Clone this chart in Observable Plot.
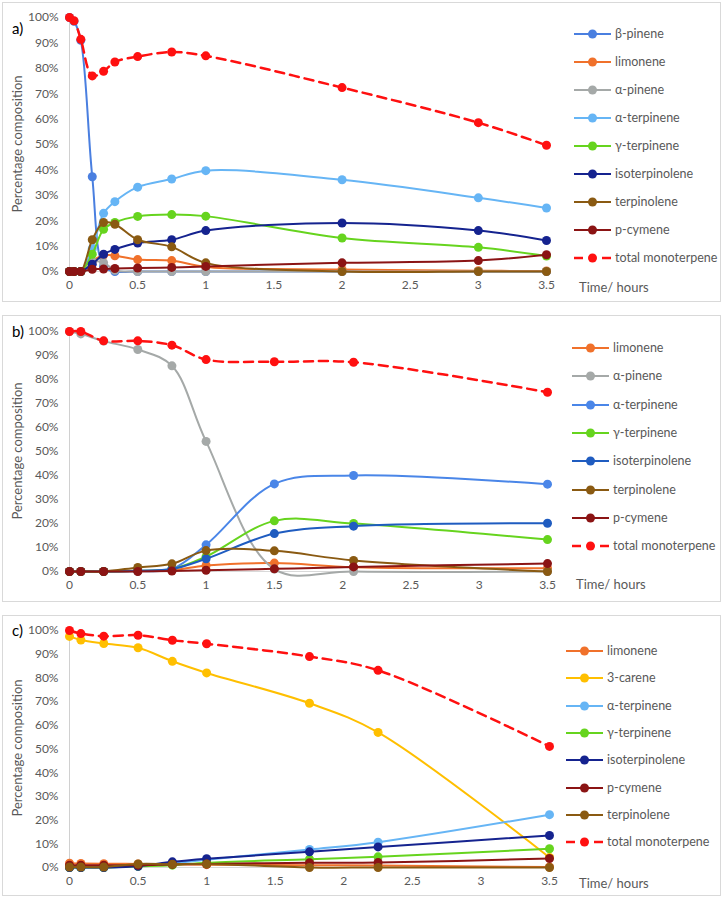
<!DOCTYPE html>
<html>
<head>
<meta charset="utf-8">
<script src="https://cdn.jsdelivr.net/npm/d3@7"></script>
<script src="https://cdn.jsdelivr.net/npm/@observablehq/plot@0.6"></script>
<style>
  body { margin: 0; background: #fff; font-family: Lato, "Open Sans", sans-serif; }
  #root { position: relative; width: 725px; height: 898px; background: #fff; overflow: hidden; }
  .panel { position: absolute; left: 2px; width: 719px; border: 1px solid #d9d9d9; box-sizing: border-box; }
  .abs { position: absolute; white-space: nowrap; }
  .plab { font-size: 15px; color: #000; }
  .ylab { font-size: 13px; color: #595959; transform: translate(-50%, -50%) rotate(-90deg); }
  .xlab { font-size: 13px; color: #595959; }
  .leg { font-size: 12.5px; color: #595959; }
  svg.plot { position: absolute; left: 0; }
</style>
</head>
<body>
<div id="root"></div>
<script>
// ---------- shared ticks ----------
const xTicks = [0, 0.5, 1, 1.5, 2, 2.5, 3, 3.5];
const yTicks = [0, 10, 20, 30, 40, 50, 60, 70, 80, 90, 100];

// ---------- panel a ----------
const timeA = [0, 0.033, 0.083, 0.167, 0.25, 0.333, 0.5, 0.75, 1, 2, 3, 3.5];
const a_betaPinene     = [100, 98.5, 91, 37.3, 2, 0, 0, 0, 0, 0, 0, 0];
const a_limonene       = [0, 0, 0, 4, 6.5, 6.2, 4.7, 4.3, 1.8, 0.8, 0.3, 0.2];
const a_alphaPinene    = [0, 0, 0, 4, 3.5, 0.5, 0, 0, 0, 0, 0, 0];
const a_alphaTerpinene = [0, 0, 0, 9, 22.9, 27.5, 33.2, 36.4, 39.7, 36.1, 29, 25];
const a_gammaTerpinene = [0, 0, 0, 6.8, 16.6, 19.3, 21.7, 22.4, 21.8, 13.2, 9.5, 6.1];
const a_isoterpinolene = [0, 0, 0, 2.9, 6.8, 8.7, 11.2, 12.5, 16.1, 19.1, 16.1, 12.2];
const a_terpinolene    = [0, 0, 0, 12.5, 19.3, 18.6, 12.5, 9.7, 3.4, 0, 0, 0];
const a_pCymene        = [0, 0, 0, 0.9, 1.0, 1.2, 1.4, 1.6, 2.0, 3.4, 4.3, 6.6];
const a_total          = [100, 98.7, 91.4, 77, 78.8, 82.5, 84.6, 86.4, 84.9, 72.4, 58.6, 49.7];
const namesA  = ["β-pinene", "limonene", "α-pinene", "α-terpinene", "γ-terpinene", "isoterpinolene", "terpinolene", "p-cymene", "total monoterpene"];
const valuesA = [a_betaPinene, a_limonene, a_alphaPinene, a_alphaTerpinene, a_gammaTerpinene, a_isoterpinolene, a_terpinolene, a_pCymene, a_total];
const colorsA = ["#4a7fe0", "#f0712b", "#a5a9a8", "#66b5f5", "#66d41e", "#15238f", "#8a5a12", "#8b1414", "#ff1010"];

// ---------- panel b ----------
const timeB = [0, 0.083, 0.25, 0.5, 0.75, 1, 1.5, 2.08, 3.5];
const b_limonene       = [0, 0, 0, 0.2, 0.5, 2.5, 3.5, 1.8, 1.4];
const b_alphaPinene    = [100, 99, 96, 92.5, 85.7, 54.2, 1, 0, 0];
const b_alphaTerpinene = [0, 0, 0, 0.2, 1, 11.1, 36.5, 40, 36.4];
const b_gammaTerpinene = [0, 0, 0, 0.3, 1, 6.2, 21.1, 20, 13.3];
const b_isoterpinolene = [0, 0, 0, 0.3, 1, 5.3, 15.8, 18.9, 20.1];
const b_terpinolene    = [0, 0, 0, 1.7, 3.2, 8.7, 8.6, 4.6, 0];
const b_pCymene        = [0, 0, 0, 0, 0.2, 0.5, 1.1, 1.9, 3.3];
const b_total          = [100, 100, 96.1, 96.1, 94.3, 88.3, 87.4, 87.2, 74.7];
const namesB  = ["limonene", "α-pinene", "α-terpinene", "γ-terpinene", "isoterpinolene", "terpinolene", "p-cymene", "total monoterpene"];
const valuesB = [b_limonene, b_alphaPinene, b_alphaTerpinene, b_gammaTerpinene, b_isoterpinolene, b_terpinolene, b_pCymene, b_total];
const colorsB = ["#f0712b", "#a5a9a8", "#4a86e8", "#66d41e", "#1f5cc0", "#8a5a12", "#8b1414", "#ff1010"];

// ---------- panel c ----------
const timeC = [0, 0.083, 0.25, 0.5, 0.75, 1, 1.75, 2.25, 3.5];
const c_limonene       = [1.8, 1.7, 1.6, 1.5, 1.3, 1.2, 1.0, 0.8, 0.2];
const c_carene         = [97.5, 96, 94.5, 92.7, 87, 82.1, 69.3, 57, 4.2];
const c_alphaTerpinene = [0, 0, 0, 0.5, 1.8, 3.3, 7.6, 10.7, 22.3];
const c_gammaTerpinene = [0, 0, 0, 0.5, 1, 2, 3.5, 4.5, 7.9];
const c_isoterpinolene = [0, 0, 0, 0.5, 2.4, 3.7, 6.6, 8.7, 13.5];
const c_pCymene        = [1, 1, 1, 1, 1.3, 1.5, 2, 2.1, 3.8];
const c_terpinolene    = [0.2, 0.2, 0.2, 1.5, 1.4, 1.5, 0, 0, 0];
const c_total          = [100, 98.7, 97.6, 98, 95.9, 94.4, 89, 83.2, 51.1];
const namesC  = ["limonene", "3-carene", "α-terpinene", "γ-terpinene", "isoterpinolene", "p-cymene", "terpinolene", "total monoterpene"];
const valuesC = [c_limonene, c_carene, c_alphaTerpinene, c_gammaTerpinene, c_isoterpinolene, c_pCymene, c_terpinolene, c_total];
const colorsC = ["#f0712b", "#ffbf00", "#66b5f5", "#66d41e", "#15238f", "#8b1414", "#8a5a12", "#ff1010"];

const root = document.getElementById("root");

function addEl(cls, text, styles) {
  const el = document.createElement("div");
  el.className = "abs " + cls;
  if (text != null) el.textContent = text;
  Object.assign(el.style, styles);
  root.appendChild(el);
  return el;
}

function makePanel(cfg) {
  const box = document.createElement("div");
  box.className = "panel";
  box.style.top = cfg.boxTop + "px";
  box.style.height = cfg.boxHeight + "px";
  root.appendChild(box);

  const marks = [
    Plot.ruleX([0], {stroke: "#d0d0d0", strokeWidth: 1}),
    Plot.ruleY([0], {stroke: "#d9d9d9", strokeWidth: 1})
  ];
  cfg.names.forEach((name, i) => {
    const rows = cfg.time.map((t, j) => ({t, v: cfg.values[i][j]}));
    const isTotal = name === "total monoterpene";
    marks.push(Plot.line(rows, {
      x: "t", y: "v", curve: "catmull-rom", stroke: cfg.colors[i],
      strokeWidth: isTotal ? 2.5 : 2, strokeDasharray: isTotal ? "9,6" : null
    }));
    marks.push(Plot.dot(rows, {x: "t", y: "v", r: 4.5, fill: cfg.colors[i], stroke: "none"}));
  });
  marks.push(Plot.axisX({ticks: xTicks, tickFormat: d => String(d), tickSize: 0, tickPadding: 9, label: null, fontSize: 12}));
  marks.push(Plot.axisY({ticks: yTicks, tickFormat: d => d + "%", tickSize: 0, tickPadding: 11, label: null, fontSize: 12}));

  const svg = Plot.plot({
    width: 560,
    height: cfg.height,
    marginLeft: 69,
    marginRight: cfg.marginRight,
    marginTop: cfg.marginTop,
    marginBottom: cfg.marginBottom,
    x: {domain: [0, 3.5]},
    y: {domain: [0, 100]},
    style: {fontFamily: "Lato, sans-serif", color: "#595959", background: "transparent", overflow: "visible"},
    marks
  });
  svg.classList.add("plot");
  svg.style.top = cfg.svgTop + "px";
  root.appendChild(svg);

  addEl("plab", cfg.label, {left: "12px", top: (cfg.labelY - 9) + "px"});
  addEl("ylab", "Percentage composition", {left: "17px", top: cfg.ylabY + "px"});
  addEl("xlab", "Time/ hours", {left: cfg.timeX + "px", top: (cfg.timeY - 8) + "px"});

  cfg.names.forEach((name, i) => {
    const y = cfg.legY0 + i * cfg.legStep;
    const isTotal = name === "total monoterpene";
    const ns = "http://www.w3.org/2000/svg";
    const s = document.createElementNS(ns, "svg");
    s.setAttribute("width", 38); s.setAttribute("height", 12);
    s.style.position = "absolute";
    s.style.left = cfg.legX + "px";
    s.style.top = (y - 6) + "px";
    const c = cfg.colors[i];
    if (isTotal) {
      s.innerHTML = `<line x1="0" y1="6" x2="9" y2="6" stroke="${c}" stroke-width="2.5"/>` +
        `<line x1="28" y1="6" x2="37" y2="6" stroke="${c}" stroke-width="2.5"/>` +
        `<circle cx="18.5" cy="6" r="4.5" fill="${c}"/>`;
    } else {
      s.innerHTML = `<line x1="0" y1="6" x2="37" y2="6" stroke="${c}" stroke-width="2"/>` +
        `<circle cx="18.5" cy="6" r="4.5" fill="${c}"/>`;
    }
    root.appendChild(s);
    addEl("leg", name, {left: (cfg.legX + 41) + "px", top: (y - 8) + "px"});
  });
}

makePanel({
  label: "a)", labelY: 28, boxTop: 2, boxHeight: 300,
  svgTop: 0, height: 298, marginTop: 17, marginBottom: 27, marginRight: 14,
  ylabY: 144, timeX: 579, timeY: 287,
  time: timeA, names: namesA, values: valuesA, colors: colorsA,
  legX: 574, legY0: 34, legStep: 28
});
makePanel({
  label: "b)", labelY: 331, boxTop: 315, boxHeight: 287,
  svgTop: 300, height: 298, marginTop: 31, marginBottom: 27, marginRight: 13,
  ylabY: 451, timeX: 576, timeY: 584,
  time: timeB, names: namesB, values: valuesB, colors: colorsB,
  legX: 572, legY0: 348, legStep: 28.3
});
makePanel({
  label: "c)", labelY: 630, boxTop: 615, boxHeight: 281,
  svgTop: 600, height: 294, marginTop: 30, marginBottom: 27, marginRight: 11,
  ylabY: 748, timeX: 579, timeY: 883,
  time: timeC, names: namesC, values: valuesC, colors: colorsC,
  legX: 566, legY0: 651, legStep: 27.3
});
</script>
</body>
</html>
